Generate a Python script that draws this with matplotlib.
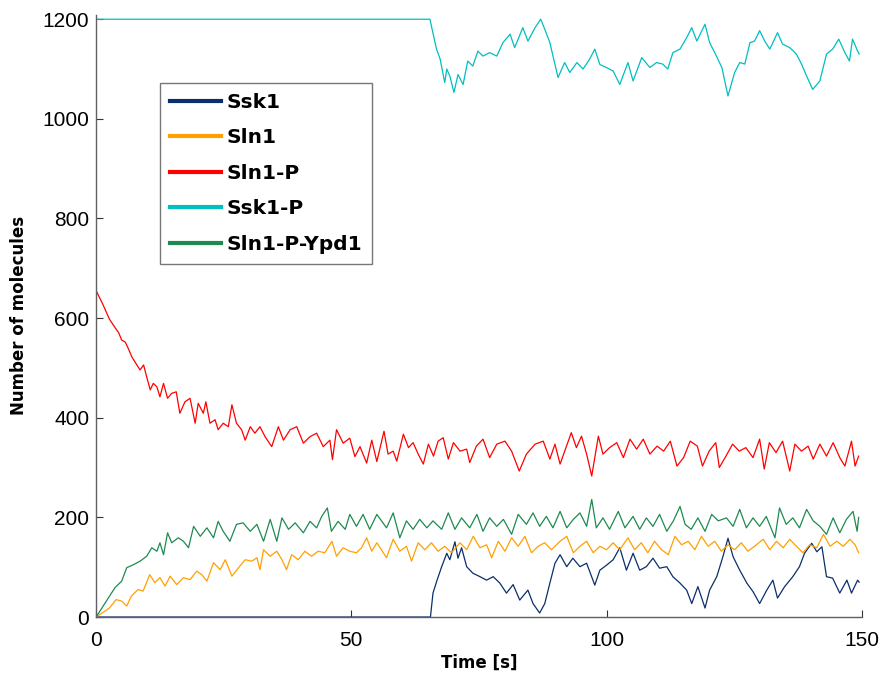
import matplotlib
matplotlib.use("Agg")
import matplotlib.pyplot as plt

# values (time in s, molecule counts)
ssk1_t = [0, 65.5, 66.0, 66.8, 67.7, 68.7, 69.3, 70.3, 70.9, 71.6,
          72.6, 73.8, 75.2, 76.5, 77.8, 79.1, 80.4, 81.7, 83.0, 84.6,
          85.6, 86.9, 87.9, 88.9, 89.9, 90.9, 92.2, 93.4, 94.8, 96.1,
          97.7, 98.7, 100.0, 101.3, 102.6, 103.9, 105.2, 106.5, 107.8, 109.1,
          110.4, 111.8, 113.0, 114.4, 115.7, 116.7, 117.9, 119.3, 120.2, 121.6,
          122.8, 123.8, 124.8, 126.1, 127.5, 128.7, 130.0, 131.4, 132.6, 133.5,
          134.9, 136.5, 137.8, 138.8, 140.2, 141.2, 142.2, 143.1, 144.3, 145.7,
          147.1, 148.0, 149.2, 149.5]
ssk1_v = [0, 0, 48, 74, 101, 128, 115, 151, 118, 139,
          101, 88, 81, 74, 81, 68, 48, 65, 34, 54,
          27, 8, 27, 68, 108, 125, 101, 118, 101, 108,
          64, 94, 104, 115, 139, 94, 128, 94, 101, 118,
          98, 101, 81, 68, 54, 27, 61, 18, 54, 81,
          121, 158, 121, 94, 68, 51, 27, 54, 74, 38,
          61, 81, 101, 128, 148, 131, 141, 81, 78, 48,
          74, 48, 74, 70]

sln1_t = [0, 1.3, 2.6, 3.9, 5.0, 6.0, 6.9, 8.2, 9.2, 10.5,
          11.5, 12.5, 13.5, 14.5, 15.8, 17.1, 18.4, 19.7, 20.7, 21.7,
          23.0, 24.3, 25.3, 26.6, 27.9, 29.2, 30.5, 31.5, 32.1, 32.8,
          34.1, 35.4, 36.4, 37.3, 38.3, 39.6, 40.9, 42.2, 43.5, 44.8,
          46.2, 47.1, 48.4, 49.7, 51.0, 52.0, 53.0, 54.0, 55.0,
          56.9, 58.2, 59.5, 60.8, 61.8, 63.1, 64.4, 65.7, 67.0, 68.3,
          69.6, 71.3, 72.6, 73.9, 75.2, 76.5, 77.5, 78.8, 80.1, 81.4,
          82.7, 84.0, 85.3, 86.6, 87.9, 89.2, 90.9, 92.2, 93.5, 94.8,
          96.1, 97.4, 98.7, 100.0, 101.3, 102.6, 104.2, 105.5, 106.8, 108.1,
          109.4, 110.8, 112.1, 113.4, 114.7, 116.0, 117.3, 118.6, 119.9, 121.2,
          122.5, 123.8, 125.1, 126.4, 127.7, 129.0, 130.7, 132.0, 133.3, 134.6,
          135.9, 137.2, 138.5, 139.8, 141.2, 142.5, 143.8, 145.1, 146.4, 147.7,
          148.7, 149.4]
sln1_v = [0, 9, 18, 35, 32, 22, 42, 55, 52, 85,
          69, 79, 62, 82, 65, 79, 75, 92, 85, 72,
          109, 95, 115, 82, 99, 115, 112, 119, 95, 135,
          122, 132, 115, 95, 125, 115, 132, 122, 132, 129,
          152, 122, 139, 132, 129, 139, 159, 132, 149,
          119, 156, 132, 142, 112, 149, 135, 149, 132, 142,
          129, 149, 135, 162, 139, 145, 119, 152, 132, 159,
          142, 162, 129, 142, 149, 135, 152, 162, 129, 142,
          152, 129, 142, 135, 149, 135, 159, 135, 149, 129,
          152, 135, 125, 162, 145, 152, 135, 162, 142, 152,
          132, 145, 135, 149, 132, 142, 156, 135, 152, 139,
          156, 142, 129, 145, 139, 166, 142, 152, 142, 156,
          145, 129]

sln1p_t = [0, 1.3, 2.6, 3.7, 4.4, 5.0, 5.7, 6.3, 7.0, 8.0,
           8.6, 9.3, 9.9, 10.6, 11.2, 11.9, 12.5, 13.2, 14.0, 14.8,
           15.7, 16.4, 17.4, 18.4, 19.4, 20.0, 21.0, 21.5, 22.3, 23.3,
           23.9, 24.9, 25.9, 26.6, 27.5, 28.5, 29.2, 30.2, 31.1, 32.1,
           33.1, 34.4, 35.7, 36.7, 38.0, 39.3, 40.6, 41.9, 43.2, 44.5,
           45.8, 46.3, 47.1, 48.4, 49.7, 50.7, 51.7, 53.0, 54.0, 55.0,
           56.4, 57.2, 58.2, 58.9, 60.2, 61.2, 62.1, 63.1, 64.1, 65.1,
           66.1, 67.0, 68.0, 69.0, 70.0, 71.3, 72.6, 73.2, 74.5, 75.8,
           77.1, 78.5, 80.1, 81.4, 82.9, 84.3, 86.0, 87.6, 88.9, 89.9,
           90.9, 91.8, 93.1, 94.1, 95.1, 96.1, 97.1, 98.4, 99.3, 100.6,
           102.0, 103.3, 104.6, 105.9, 107.2, 108.5, 109.9, 111.2, 112.5, 113.8,
           115.1, 116.4, 117.8, 118.8, 120.1, 121.4, 122.1, 123.4, 124.7, 126.0,
           127.3, 128.7, 130.0, 130.9, 131.9, 133.2, 134.5, 135.9, 136.9, 138.2,
           139.5, 140.5, 141.8, 143.1, 144.4, 145.7, 146.7, 148.0, 148.7, 149.4]
sln1p_v = [655, 628, 598, 581, 571, 556, 552, 539, 522, 506,
           496, 506, 482, 456, 469, 462, 442, 469, 439, 449,
           452, 409, 432, 439, 389, 429, 409, 432, 389, 396,
           376, 389, 382, 426, 389, 376, 355, 382, 369, 382,
           362, 342, 382, 355, 376, 382, 349, 362, 369, 342,
           355, 316, 376, 349, 359, 322, 342, 309, 355, 312,
           373, 327, 333, 313, 367, 340, 350, 327, 307, 347,
           323, 353, 360, 317, 350, 333, 337, 310, 343, 357,
           320, 347, 353, 333, 293, 327, 347, 353, 317, 347,
           307, 333, 370, 340, 363, 327, 283, 363, 327, 340,
           350, 320, 357, 337, 357, 327, 343, 333, 353, 303,
           320, 353, 343, 303, 333, 350, 300, 323, 347, 333,
           340, 320, 357, 297, 350, 330, 353, 293, 347, 333,
           343, 317, 347, 323, 350, 320, 303, 353, 303, 323]

ssk1p_t = [0, 65.4, 66.4, 66.7, 67.4, 68.3, 68.7, 69.3, 70.1, 70.9,
           71.9, 72.8, 73.8, 74.8, 75.8, 77.1, 78.5, 79.7, 81.1, 82.0,
           83.6, 84.6, 86.0, 87.1, 87.9, 88.9, 89.9, 90.5, 91.8, 92.8,
           94.2, 95.4, 96.7, 97.7, 98.7, 100.0, 101.3, 102.6, 104.2, 105.2,
           106.9, 108.5, 109.8, 111.0, 112.0, 113.0, 114.4, 115.7, 116.7, 117.7,
           119.3, 120.2, 121.2, 122.6, 123.8, 125.1, 126.1, 127.1, 128.1, 129.0,
           130.0, 131.0, 132.0, 133.5, 134.5, 135.9, 137.2, 138.2, 139.2, 140.4,
           141.8, 143.1, 144.3, 145.5, 146.7, 147.6, 148.2, 149.2, 149.5]
ssk1p_v = [1200, 1200, 1153, 1140, 1120, 1073, 1100, 1086, 1053, 1089,
           1069, 1116, 1106, 1136, 1126, 1133, 1126, 1153, 1170, 1143,
           1183, 1156, 1183, 1200, 1180, 1153, 1109, 1083, 1113, 1093,
           1113, 1100, 1120, 1140, 1109, 1103, 1096, 1069, 1113, 1076,
           1123, 1103, 1113, 1110, 1100, 1133, 1140, 1163, 1183, 1156,
           1190, 1153, 1133, 1103, 1046, 1093, 1113, 1110, 1153, 1156,
           1177, 1156, 1140, 1173, 1150, 1143, 1130, 1110, 1086, 1059,
           1076, 1130, 1140, 1160, 1133, 1116, 1160, 1136, 1130]

ypd1_t = [0, 2.0, 3.7, 5.0, 6.0, 7.3, 8.6, 9.9, 10.9, 11.9,
          12.5, 13.2, 14.0, 14.8, 16.1, 17.1, 18.1, 19.1, 20.4, 21.7,
          23.0, 23.9, 24.9, 26.2, 27.5, 28.8, 30.2, 31.5, 32.8, 34.1,
          35.4, 36.4, 37.7, 39.0, 40.6, 41.9, 43.2, 44.2, 45.3, 46.1,
          47.4, 48.8, 49.7, 51.0, 52.3, 53.6, 55.0,
          56.9, 58.2, 59.5, 60.8, 62.1, 63.4, 64.8, 66.0, 67.7, 69.0,
          70.3, 71.6, 73.2, 74.6, 75.8, 77.1, 78.5, 79.8, 81.4, 82.7,
          84.3, 85.6, 86.9, 88.2, 89.5, 90.9, 92.2, 93.5, 94.8, 96.1,
          97.1, 98.0, 99.3, 100.6, 102.3, 103.6, 105.2, 106.5, 107.8, 109.1,
          110.4, 111.8, 113.1, 114.4, 115.4, 116.6, 117.9, 119.3, 120.6, 121.9,
          123.5, 124.8, 126.1, 127.4, 128.7, 130.0, 131.3, 133.0, 133.9, 135.2,
          136.5, 137.8, 139.2, 140.5, 141.8, 143.1, 144.4, 145.7, 147.0, 148.3,
          149.1, 149.4]
ypd1_v = [0, 32, 59, 72, 99, 105, 112, 122, 139, 132,
          149, 125, 169, 149, 159, 152, 139, 182, 162, 179,
          159, 192, 172, 152, 186, 189, 172, 186, 152, 196,
          152, 199, 176, 189, 169, 192, 179, 202, 219, 172,
          192, 176, 206, 182, 206, 176, 206,
          179, 209, 159, 193, 176, 196, 179, 193, 176, 209,
          176, 199, 179, 206, 172, 199, 182, 196, 166, 206,
          186, 209, 182, 202, 179, 212, 179, 196, 209, 182,
          236, 179, 199, 176, 212, 179, 202, 176, 199, 182,
          206, 172, 193, 222, 186, 176, 199, 172, 206, 193,
          199, 182, 216, 179, 199, 182, 202, 159, 219, 186,
          199, 179, 216, 193, 182, 166, 199, 169, 196, 212,
          172, 200]

labels = ["Ssk1", "Sln1", "Sln1-P", "Ssk1-P", "Sln1-P-Ypd1"]
colors = ["#0b2f6b", "#ffa000", "#ff0000", "#00bfbf", "#1f8a50"]
series = [(ssk1_t, ssk1_v), (sln1_t, sln1_v), (sln1p_t, sln1p_v),
          (ssk1p_t, ssk1p_v), (ypd1_t, ypd1_v)]

fig = plt.figure(figsize=(8.82, 6.79), dpi=100)
ax = fig.add_axes([0.109, 0.0913, 0.868, 0.887])

for (t, v), lab, c in zip(series, labels, colors):
    ax.plot(t, v, color=c, lw=0.9, label=lab)

ax.set_xlim(0, 150)
ax.set_ylim(0, 1209)
ax.set_xticks([0, 50, 100, 150])
ax.set_yticks([0, 200, 400, 600, 800, 1000, 1200])

for s in ["top", "right"]:
    ax.spines[s].set_visible(False)
for s in ["left", "bottom"]:
    ax.spines[s].set_color("#606060")
    ax.spines[s].set_linewidth(1.0)

ax.tick_params(direction="in", length=5, width=0.8, color="#333333",
               labelsize=15)
ax.tick_params(axis="x", pad=10)
ax.tick_params(axis="y", pad=5)
for lbl in ax.get_xticklabels() + ax.get_yticklabels():
    lbl.set_family("Liberation Sans")

ax.set_xlabel("Time [s]", fontsize=12, fontweight="bold", labelpad=3)
ax.set_ylabel("Number of molecules", fontsize=12, fontweight="bold", labelpad=10)

leg = ax.legend(loc="upper left", bbox_to_anchor=(0.0836, 0.887),
                prop={"size": 14.5, "weight": "bold"}, fancybox=False,
                handlelength=2.5, handletextpad=0.3, labelspacing=0.82,
                borderpad=0.5, borderaxespad=0)
leg.get_frame().set_edgecolor("#555555")
leg.get_frame().set_linewidth(1.0)
for line in leg.get_lines():
    line.set_linewidth(3)

fig.savefig("out.png", dpi=100)
